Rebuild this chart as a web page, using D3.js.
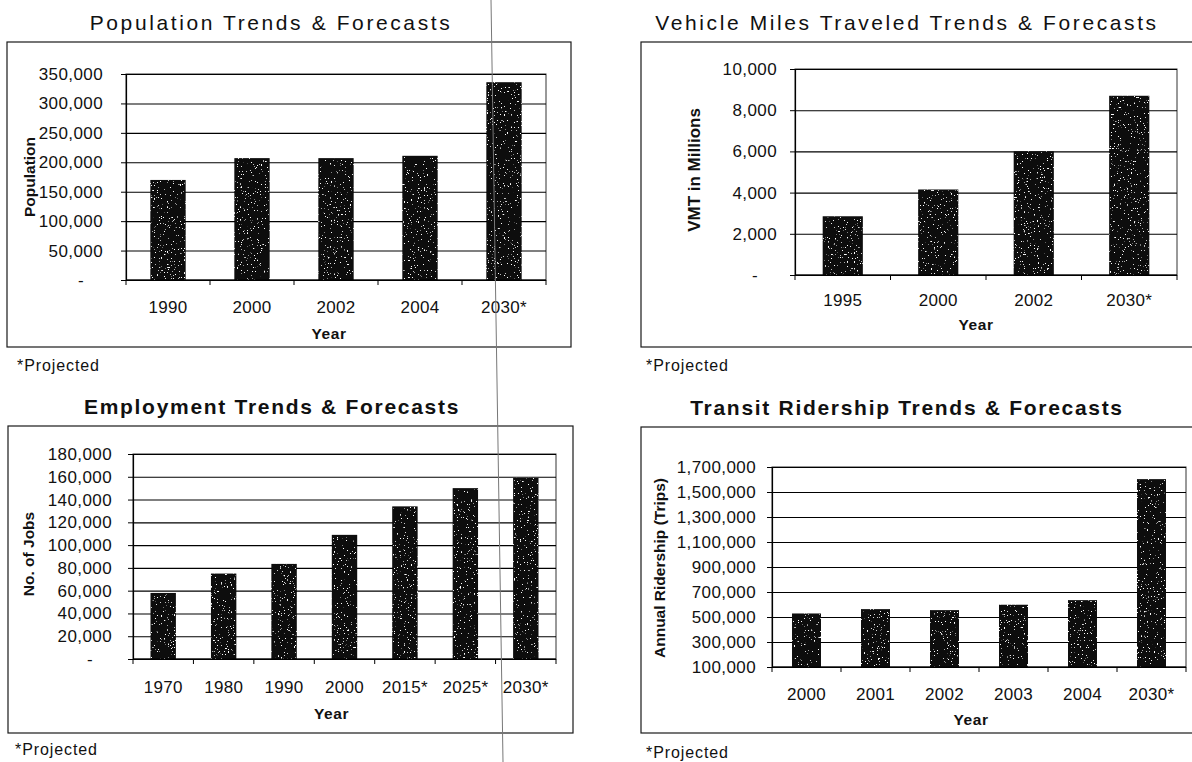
<!DOCTYPE html>
<html>
<head>
<meta charset="utf-8">
<script src="https://cdn.jsdelivr.net/npm/d3@7"></script>
<style>
  html, body { margin: 0; padding: 0; background: #fff; }
  svg { display: block; font-family: "Liberation Sans", Arial, Helvetica, sans-serif; }
</style>
</head>
<body>
<svg id="chart" width="1192" height="762"></svg>
<script>
// ---- Population ----
const popYears  = ["1990", "2000", "2002", "2004", "2030*"];
const popValues = [170000, 207000, 207000, 211000, 336000];
const popTicks  = [0, 50000, 100000, 150000, 200000, 250000, 300000, 350000];

// ---- Vehicle miles traveled (millions) ----
const vmtYears  = ["1995", "2000", "2002", "2030*"];
const vmtValues = [2850, 4150, 6000, 8700];
const vmtTicks  = [0, 2000, 4000, 6000, 8000, 10000];

// ---- Employment ----
const jobYears  = ["1970", "1980", "1990", "2000", "2015*", "2025*", "2030*"];
const jobValues = [58000, 75000, 83500, 109000, 134000, 150000, 159000];
const jobTicks  = [0, 20000, 40000, 60000, 80000, 100000, 120000, 140000, 160000, 180000];

// ---- Transit ridership ----
const riderYears  = ["2000", "2001", "2002", "2003", "2004", "2030*"];
const riderValues = [528000, 563000, 555000, 598000, 635000, 1603000];
const riderTicks  = [100000, 300000, 500000, 700000, 900000, 1100000, 1300000, 1500000, 1700000];

const svg = d3.select("#chart");

// grainy print texture for the bar fills
const defs = svg.append("defs");
const f = defs.append("filter").attr("id", "speckle")
  .attr("x", 0).attr("y", 0).attr("width", 1).attr("height", 1);
f.append("feTurbulence").attr("type", "fractalNoise").attr("baseFrequency", 0.7)
  .attr("numOctaves", 2).attr("seed", 7).attr("result", "noise");
f.append("feColorMatrix").attr("in", "noise").attr("type", "matrix")
  .attr("values", "0 0 0 0 1  0 0 0 0 1  0 0 0 0 1  16 0 0 0 -10.9").attr("result", "dots");
f.append("feComposite").attr("in", "dots").attr("in2", "SourceGraphic")
  .attr("operator", "in").attr("result", "clipped");
const fm = f.append("feMerge");
fm.append("feMergeNode").attr("in", "SourceGraphic");
fm.append("feMergeNode").attr("in", "clipped");

const fmtNum = d3.format(",");

function drawPanel(cfg) {
  const g = svg.append("g");
  const { l, r, t, b } = cfg.plot;

  // outer frame
  g.append("rect")
    .attr("x", cfg.box[0]).attr("y", cfg.box[1])
    .attr("width", cfg.box[2] - cfg.box[0]).attr("height", cfg.box[3] - cfg.box[1])
    .attr("fill", "none").attr("stroke", "#1a1a1a").attr("stroke-width", 1.2);

  // title
  g.append("text")
    .attr("x", cfg.titleX).attr("y", cfg.titleY).attr("dy", "0.36em")
    .attr("text-anchor", "middle")
    .attr("font-size", 21).attr("letter-spacing", cfg.titleBold ? 1.7 : 2.6)
    .attr("font-weight", cfg.titleBold ? "bold" : "normal")
    .attr("fill", "#111")
    .text(cfg.title);

  const x = d3.scaleBand().domain(cfg.categories).range([l, r])
    .paddingInner(0.58).paddingOuter(0.29);
  const y = d3.scaleLinear()
    .domain([cfg.ticks[0], cfg.ticks[cfg.ticks.length - 1]])
    .range([b, t]);

  // plot area frame
  g.append("rect").attr("x", l).attr("y", t).attr("width", r - l).attr("height", b - t)
    .attr("fill", "none").attr("stroke", "#333").attr("stroke-width", 1);

  // horizontal gridlines
  g.append("g")
    .attr("transform", `translate(${l},0)`)
    .call(d3.axisLeft(y).tickValues(cfg.ticks).tickSize(-(r - l)).tickFormat(""))
    .call(s => s.select(".domain").remove())
    .call(s => s.selectAll(".tick line").attr("stroke", "#000").attr("stroke-width", 1.1));

  // bars
  g.append("g").selectAll("rect")
    .data(cfg.values)
    .join("rect")
    .attr("x", (d, i) => x(cfg.categories[i]))
    .attr("y", d => y(d))
    .attr("width", x.bandwidth())
    .attr("height", d => y(cfg.ticks[0]) - y(d))
    .attr("fill", "#080808")
    .attr("filter", "url(#speckle)");

  // y axis
  const ya = g.append("g")
    .attr("transform", `translate(${l},0)`)
    .call(d3.axisLeft(y).tickValues(cfg.ticks).tickSize(5).tickPadding(cfg.yPad)
      .tickFormat(d => d === 0 ? "-" : fmtNum(d)));
  ya.select(".domain").attr("stroke", "#000").attr("stroke-width", 1.2);
  ya.selectAll(".tick line").attr("stroke", "#000");
  ya.selectAll(".tick text")
    .attr("font-size", 17).attr("letter-spacing", 0.4).attr("fill", "#111")
    .attr("dx", d => d === 0 ? -19 : 0);
  ya.attr("font-family", null).attr("font-size", null);

  // x axis line and category boundary ticks
  const step = x.step();
  const bounds = d3.range(cfg.categories.length + 1).map(i => l + i * step);
  g.append("line").attr("x1", l).attr("x2", r).attr("y1", b).attr("y2", b)
    .attr("stroke", "#000").attr("stroke-width", 1.2);
  g.append("g").selectAll("line").data(bounds).join("line")
    .attr("x1", d => d).attr("x2", d => d).attr("y1", b).attr("y2", b + 5)
    .attr("stroke", "#000");

  // category labels
  const xa = g.append("g")
    .attr("transform", `translate(0,${b})`)
    .call(d3.axisBottom(x).tickSize(0).tickPadding(cfg.xPad));
  xa.select(".domain").remove();
  xa.attr("font-family", null).attr("font-size", null);
  xa.selectAll(".tick text").attr("font-size", 17).attr("letter-spacing", 0.3).attr("fill", "#111");

  // axis titles
  g.append("text")
    .attr("x", (l + r) / 2 + cfg.yearDx).attr("y", cfg.yearY).attr("dy", "0.36em")
    .attr("text-anchor", "middle").attr("font-size", 15.5).attr("font-weight", "bold")
    .attr("letter-spacing", 0.6).attr("fill", "#111")
    .text("Year");

  g.append("text")
    .attr("transform", `translate(${cfg.yTitleX},${cfg.yTitleY}) rotate(-90)`)
    .attr("dy", "0.36em")
    .attr("text-anchor", "middle").attr("font-size", cfg.yTitleSize).attr("font-weight", "bold")
    .attr("fill", "#111")
    .text(cfg.yTitle);

  // footnote
  g.append("text")
    .attr("x", cfg.noteX).attr("y", cfg.noteY).attr("dy", "0.36em")
    .attr("font-size", 16).attr("letter-spacing", 0.9).attr("fill", "#111")
    .text("*Projected");
}

drawPanel({
  title: "Population Trends & Forecasts", titleBold: false, titleX: 271, titleY: 22,
  categories: popYears, values: popValues, ticks: popTicks,
  box: [7, 42, 571, 347], plot: { l: 126, r: 546, t: 74, b: 280 },
  yPad: 18, xPad: 21, yearY: 333, yearDx: -7,
  yTitle: "Population", yTitleSize: 15.5, yTitleX: 29, yTitleY: 177,
  noteX: 17, noteY: 365
});

drawPanel({
  title: "Vehicle Miles Traveled Trends & Forecasts", titleBold: false, titleX: 907, titleY: 22,
  categories: vmtYears, values: vmtValues, ticks: vmtTicks,
  box: [641, 42, 1200, 347], plot: { l: 795, r: 1177, t: 69, b: 275 },
  yPad: 13, xPad: 19, yearY: 324, yearDx: -10,
  yTitle: "VMT in Millions", yTitleSize: 17, yTitleX: 694, yTitleY: 170,
  noteX: 646, noteY: 365
});

drawPanel({
  title: "Employment Trends & Forecasts", titleBold: true, titleX: 272, titleY: 406,
  categories: jobYears, values: jobValues, ticks: jobTicks,
  box: [8, 426, 573, 733], plot: { l: 133, r: 556, t: 454, b: 659 },
  yPad: 16, xPad: 22, yearY: 713, yearDx: -13,
  yTitle: "No. of Jobs", yTitleSize: 15.5, yTitleX: 28, yTitleY: 554,
  noteX: 15, noteY: 749
});

drawPanel({
  title: "Transit Ridership Trends & Forecasts", titleBold: true, titleX: 907, titleY: 407,
  categories: riderYears, values: riderValues, ticks: riderTicks,
  box: [641, 427, 1200, 733], plot: { l: 772, r: 1186, t: 467, b: 667 },
  yPad: 11, xPad: 21, yearY: 719, yearDx: -8,
  yTitle: "Annual Ridership (Trips)", yTitleSize: 15.5, yTitleX: 659, yTitleY: 568,
  noteX: 646, noteY: 752
});

// crease running down the printed page
svg.append("line")
  .attr("x1", 491).attr("y1", 0).attr("x2", 503).attr("y2", 762)
  .attr("stroke", "#777").attr("stroke-width", 1);
</script>
</body>
</html>
